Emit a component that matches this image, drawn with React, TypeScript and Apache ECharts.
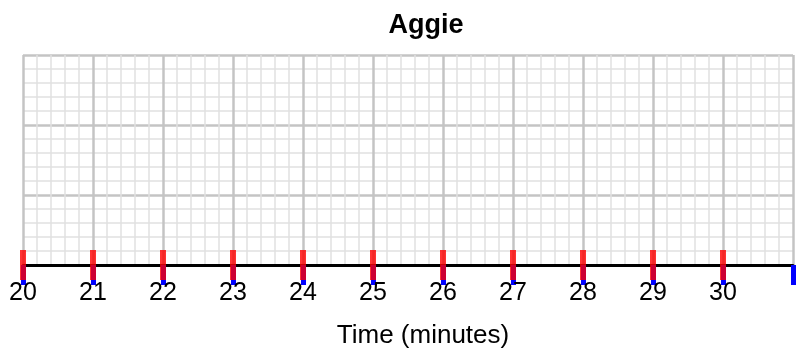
import React, { useEffect, useRef } from "react";
import * as echarts from "echarts";

const titleText = "Aggie";
const xAxisName = "Time (minutes)";
const xMin = 20;
const xMax = 31;
const xTickValues = [20, 21, 22, 23, 24, 25, 26, 27, 28, 29, 30];
const yMin = 0;
const yMax = 3;

export default function App() {
  const ref = useRef<HTMLDivElement>(null);
  useEffect(() => {
    if (!ref.current) return;
    const chart = echarts.init(ref.current, null, { renderer: "svg" });
    const font = "'Liberation Sans', Arial, sans-serif";
    chart.setOption({
      animation: false,
      title: {
        text: titleText,
        left: 421,
        textAlign: "center",
        top: 5,
        textStyle: { fontFamily: font, fontSize: 27, fontWeight: "bold", color: "#000" },
      },
      grid: { left: 23, right: 18, top: 55, bottom: 85, containLabel: false, outerBoundsMode: "none" },
      xAxis: {
        type: "value",
        min: xMin,
        max: xMax,
        interval: 1,
        name: xAxisName,
        nameLocation: "middle",
        nameGap: 56,
        nameTextStyle: { fontFamily: font, fontSize: 26, color: "#000", padding: [0, 0, 0, 30] },
        axisLine: { show: true, onZero: false, lineStyle: { color: "#000", width: 3 } },
        axisTick: { show: true, length: 20, lineStyle: { color: "#00f", width: 5 } },
        axisLabel: {
          margin: 13,
          fontFamily: font,
          fontSize: 25,
          color: "#000",
          formatter: (v: number) => (xTickValues.indexOf(v) >= 0 ? String(v) : ""),
        },
        splitLine: { show: true, lineStyle: { color: "#c4c4c4", width: 2.5 } },
        minorTick: { show: false, splitNumber: 5 },
        minorSplitLine: { show: true, lineStyle: { color: "#e0e0e0", width: 1.5 } },
      },
      yAxis: {
        type: "value",
        min: yMin,
        max: yMax,
        interval: 1,
        axisLine: { show: false },
        axisTick: { show: false },
        axisLabel: { show: false },
        splitLine: { show: true, lineStyle: { color: "#c4c4c4", width: 2.5 } },
        minorTick: { show: false, splitNumber: 5 },
        minorSplitLine: { show: true, lineStyle: { color: "#e0e0e0", width: 1.5 } },
      },
      series: [
        {
          type: "scatter", clip: false, symbol: "rect", symbolSize: [6, 30],
          itemStyle: { color: "#f00" },
          data: xTickValues.map((v) => [v, yMin]),
        },
      ],
    });
    return () => chart.dispose();
  }, []);
  return <div ref={ref} style={{ position: "fixed", left: 0, top: 0, width: 811, height: 350 }} />;
}
